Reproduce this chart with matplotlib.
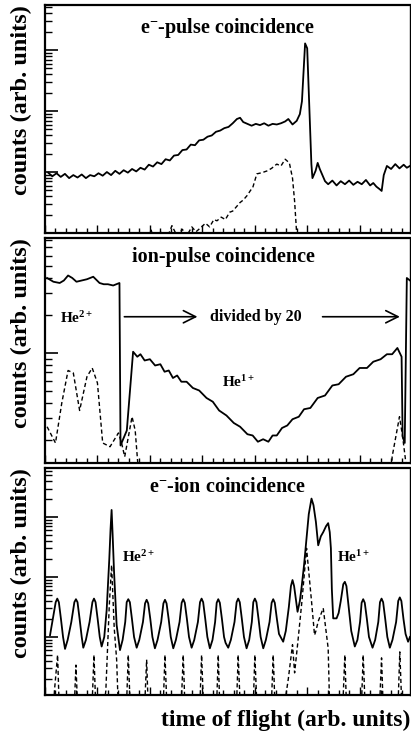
import numpy as np
import matplotlib.pyplot as plt
from matplotlib.ticker import LogLocator, NullFormatter, MultipleLocator

plt.rcParams['font.family'] = ['Liberation Serif', 'DejaVu Serif']
plt.rcParams['font.weight'] = 'bold'
plt.rcParams['mathtext.fontset'] = 'custom'
plt.rcParams['mathtext.rm'] = 'Liberation Serif:bold'
plt.rcParams['mathtext.bf'] = 'Liberation Serif:bold'
plt.rcParams['mathtext.it'] = 'Liberation Serif:bold'

# time of flight (arb. units) and log10(counts)
# -1 means below the bottom of the panel

# e- - pulse coincidence
t1_solid = [3, 7, 11, 15, 19, 23, 27, 31, 35, 39, 43, 47, 51, 55, 59, 63, 67, 71, 75, 79, 83,
            87, 91, 95, 99, 103, 107, 111, 115, 119, 123, 127, 131, 135, 139, 143, 147, 151,
            155, 159, 163, 167, 171, 175, 179, 183, 186, 189, 193, 197, 201, 205, 209, 213, 217,
            221, 225, 229, 232, 236, 240, 243, 245, 248, 250, 254, 255, 258, 260, 262, 264, 267,
            270, 274, 278, 282, 286, 290, 294, 298, 302, 306, 310, 313, 316, 319, 321, 323, 326,
            330, 334, 338, 342, 345, 348]
y1_solid = [0.99, 0.93, 0.98, 0.92, 0.97, 0.90, 0.95, 0.91, 0.96, 0.90, 0.95, 0.93, 0.98, 0.94,
            1.00, 0.95, 1.02, 0.97, 1.03, 0.99, 1.05, 1.01, 1.07, 1.04, 1.12, 1.09, 1.16, 1.13,
            1.21, 1.19, 1.27, 1.28, 1.36, 1.37, 1.45, 1.44, 1.52, 1.53, 1.58, 1.60, 1.66, 1.68,
            1.72, 1.74, 1.80, 1.87, 1.89, 1.82, 1.79, 1.76, 1.79, 1.77, 1.80, 1.76, 1.79, 1.78,
            1.80, 1.83, 1.87, 1.78, 1.84, 1.95, 2.16, 3.11, 3.03, 1.13, 0.90, 1.02, 1.15, 1.05,
            0.97, 0.85, 0.80, 0.86, 0.78, 0.85, 0.80, 0.86, 0.79, 0.84, 0.80, 0.87, 0.78, 0.82,
            0.76, 0.72, 0.69, 0.95, 1.10, 1.05, 1.13, 1.06, 1.12, 1.07, 1.10]
t1_dash = [97, 101, 105, 110, 116, 121, 126, 131, 135, 140, 144, 148, 153, 157, 161, 164, 168,
           172, 176, 179, 183, 186, 189, 193, 196, 198, 202, 207, 212, 216, 221, 225, 229, 233,
           236, 238, 240, 243]
y1_dash = [-0.2, 0.05, -0.1, 0.02, -0.1, 0.12, -0.05, 0.06, -0.05, 0.10, 0.02, 0.08, 0.16, 0.10,
           0.22, 0.20, 0.26, 0.22, 0.34, 0.36, 0.44, 0.50, 0.54, 0.62, 0.70, 0.74, 0.97, 0.99,
           1.02, 1.06, 1.13, 1.10, 1.21, 1.15, 0.90, 0.52, -0.02, -1]

# ion - pulse coincidence
t2_solid = [2, 8, 14, 18, 22, 26, 30, 35, 40, 46, 52, 56, 60, 65, 71, 72, 74, 78, 84, 88, 91,
            95, 100, 105, 110, 114, 118, 122, 126, 130, 135, 141, 147, 154, 160, 166, 173, 180,
            186, 193, 198, 203, 208, 213, 217, 221, 226, 231, 236, 242, 247, 253, 260, 267, 274,
            280, 287, 294, 300, 307, 313, 320, 326, 331, 336, 340, 341, 343, 345, 348]
y2_solid = [1.60, 1.57, 1.56, 1.58, 1.62, 1.60, 1.57, 1.58, 1.59, 1.61, 1.56, 1.55, 1.55, 1.54,
            1.56, 0.26, 0.30, 0.38, 1.01, 0.97, 0.99, 0.94, 0.95, 0.90, 0.91, 0.85, 0.86, 0.80,
            0.82, 0.77, 0.77, 0.72, 0.70, 0.64, 0.61, 0.54, 0.50, 0.44, 0.41, 0.35, 0.34, 0.29,
            0.31, 0.29, 0.34, 0.34, 0.40, 0.42, 0.47, 0.49, 0.55, 0.56, 0.64, 0.66, 0.74, 0.75,
            0.81, 0.83, 0.88, 0.88, 0.93, 0.95, 0.99, 0.99, 1.04, 0.97, 0.33, 0.28, 1.60, 1.58]
t2_dash = [2, 10, 16, 22, 27, 33, 40, 45, 50, 55, 62, 70, 73, 76, 83, 86, 89, 95, 325, 331,
           338, 341, 345]
y2_dash = [0.41, 0.28, 0.60, 0.86, 0.84, 0.54, 0.81, 0.88, 0.76, 0.28, 0.25, 0.36, 0.28, 0.17,
           0.49, 0.38, 0.06, -1, -1, 0.17, 0.49, 0.33, 0.06]

# e- - ion coincidence
t3_solid = [4.8, 7.5, 10.2, 11.7, 13.2, 15.2, 17.2, 19.1,
            21.6, 25.1, 28.0, 29.5, 31.0, 33.0, 35.0, 36.5,
            39.0, 42.5, 45.2, 46.7, 48.2, 50.2, 52.2, 54.0,
            56.5, 58.8, 61.3, 62.5, 63.5, 64.5, 65.8, 68.3, 71.5,
            74.0, 76.5, 77.9, 79.4, 80.9, 82.9, 84.9, 87.4,
            89.9, 93.4, 95.4, 96.9, 98.4, 100.4, 102.4, 104.8,
            107.3, 110.8, 112.9, 114.4, 115.9, 117.9, 119.9, 122.3,
            124.8, 128.3, 130.3, 131.8, 133.3, 135.3, 137.3, 139.8,
            142.3, 145.8, 147.8, 149.3, 150.8, 152.8, 154.8, 157.2,
            159.7, 162.2, 163.7, 165.2, 166.7, 168.7, 170.7, 172.2, 174.7,
            177.2, 180.7, 182.7, 184.2, 185.7, 187.7, 189.7, 192.2,
            194.7, 197.2, 198.6, 200.1, 201.6, 203.6, 205.6, 208.1,
            210.6, 214.1, 216.1, 217.6, 219.1, 221.1, 223.1, 227.1,
            229.6, 232.5, 234.5, 236.0, 237.5, 240.8, 243.0, 244.6, 247.0, 249.4, 251.5, 254.1,
            256.0, 258.3, 260.5, 263.0, 265.3, 268.0, 270.0, 271.5, 272.6, 273.5, 274.8, 278.0,
            280.0, 282.0, 284.4, 285.9, 287.4, 289.5, 292.0, 295.4,
            297.9, 300.4, 301.9, 303.4, 304.9, 306.9, 308.9, 312.3,
            314.8, 317.8, 319.4, 320.9, 322.4, 324.4, 326.4, 328.8,
            331.3, 334.8, 336.8, 338.3, 339.8, 341.8, 343.8, 346.2, 348.0]
y3_solid = [1.03, 1.30, 1.58, 1.64, 1.58, 1.30, 1.00, 0.80,
            0.95, 1.25, 1.58, 1.63, 1.58, 1.30, 1.00, 0.82,
            0.95, 1.25, 1.58, 1.64, 1.58, 1.30, 1.00, 0.84,
            1.00, 1.45, 2.30, 2.80, 3.12, 2.70, 2.10, 1.20, 0.78,
            0.95, 1.25, 1.58, 1.63, 1.58, 1.30, 1.00, 0.82,
            0.95, 1.25, 1.56, 1.62, 1.56, 1.30, 1.00, 0.81,
            0.95, 1.25, 1.56, 1.62, 1.56, 1.30, 1.00, 0.81,
            0.95, 1.25, 1.57, 1.63, 1.57, 1.30, 1.00, 0.82,
            0.95, 1.25, 1.58, 1.64, 1.58, 1.30, 1.00, 0.81,
            0.95, 1.25, 1.57, 1.63, 1.57, 1.30, 1.00, 0.90, 0.82,
            0.95, 1.25, 1.58, 1.64, 1.58, 1.30, 1.00, 0.81,
            0.95, 1.25, 1.58, 1.64, 1.58, 1.30, 1.00, 0.81,
            0.95, 1.25, 1.57, 1.63, 1.57, 1.30, 1.05, 0.92,
            1.10, 1.50, 1.85, 1.95, 1.85, 1.42, 1.60, 1.82, 2.20, 2.65, 3.05, 3.31,
            3.20, 2.92, 2.53, 2.68, 2.75, 2.85, 2.90, 2.75, 2.48, 1.80, 1.31, 1.31,
            1.40, 1.60, 1.88, 1.92, 1.85, 1.50, 1.10, 0.84,
            0.95, 1.25, 1.57, 1.63, 1.57, 1.30, 1.00, 0.82,
            0.95, 1.25, 1.58, 1.64, 1.58, 1.30, 1.00, 0.82,
            0.95, 1.25, 1.60, 1.66, 1.60, 1.30, 1.05, 0.92, 1.00]
t3_dash = [6, 9, 12, 15, 26, 29.5, 33, 43, 46.7, 50, 58, 61.3, 63.5, 66, 68.3, 71.5, 76, 79.4,
           83, 93, 96.9, 100, 111, 114.4, 118, 128, 131.8, 135, 146, 149.3, 153, 162, 165.2, 168,
           181, 184.2, 188, 197, 200.1, 204, 214, 217.6, 221, 232, 236.0, 238, 241, 245, 249.4,
           254.1, 257, 258.3, 260.5, 265.3, 270.0, 272.6, 275, 282, 285.9, 289, 300, 303.4, 307,
           317, 320.9, 324, 335, 338.3, 342]
y3_dash = [-1, 0.10, 0.70, -1, -1, 0.53, -1, -1, 0.70, -1, 0.10, 1.53, 2.20, 1.15, 0.62, -1,
           -1, 0.70, -1, -1, 0.62, -1, -1, 0.70, -1, -1, 0.70, -1, -1, 0.70, -1, -1, 0.70, -1,
           -1, 0.70, -1, -1, 0.70, -1, -1, 0.70, -1, 0.30, 0.87, 0.40, 0.90, 1.60, 2.48, 1.60,
           1.03, 1.10, 1.26, 1.48, 0.81, -1, -1, -1, 0.70, -1, -1, 0.70, -1, -1, 0.65, -1, -1,
           0.75, -1]

fig = plt.figure(figsize=(4.11, 7.35), dpi=100)
rects = [[0.1095, 0.6830, 0.888, 0.3102],
         [0.1095, 0.3701, 0.888, 0.3061],
         [0.1095, 0.0544, 0.888, 0.3088]]
ylims = [(10**0, 10**3.74), (10**0.12, 10**1.92), (10**0.03, 10**3.82)]
axes = [fig.add_axes(r) for r in rects]

series = [(t1_solid, y1_solid, t1_dash, y1_dash),
          (t2_solid, y2_solid, t2_dash, y2_dash),
          (t3_solid, y3_solid, t3_dash, y3_dash)]

for ax, (ts, ys, td, yd), yl in zip(axes, series, ylims):
    ax.plot(ts, 10**np.array(ys), color='black', lw=1.3)
    ax.plot(td, 10**np.array(yd), color='black', lw=1.0, ls=(0, (3, 2)))
    ax.set_yscale('log')
    ax.set_xlim(0, 348)
    ax.set_ylim(*yl)
    ax.yaxis.set_major_locator(LogLocator(base=10))
    ax.yaxis.set_minor_locator(LogLocator(base=10, subs=np.arange(2, 10)))
    ax.yaxis.set_major_formatter(NullFormatter())
    ax.yaxis.set_minor_formatter(NullFormatter())
    ax.xaxis.set_major_locator(MultipleLocator(50))
    ax.xaxis.set_minor_locator(MultipleLocator(10))
    ax.xaxis.set_major_formatter(NullFormatter())
    ax.tick_params(axis='y', which='major', direction='in', length=9.5, width=1.2)
    ax.tick_params(axis='y', which='minor', direction='in', length=5, width=1.0)
    ax.tick_params(axis='x', which='major', direction='in', length=6, width=1.0)
    ax.tick_params(axis='x', which='minor', direction='in', length=3.5, width=1.0)
    for s in ['left', 'bottom', 'top']:
        ax.spines[s].set_linewidth(1.6)
    ax.spines['right'].set_linewidth(1.0)
    ax.set_ylabel('counts (arb. units)', loc='top', fontsize=17.5, fontweight='bold',
                  labelpad=6)

ax1, ax2, ax3 = axes
ax1.text(0.499, 0.90, 'e$^{-}$-pulse coincidence', transform=ax1.transAxes,
         ha='center', va='center', fontsize=14.5, fontweight='bold')
ax2.text(0.49, 0.915, 'ion-pulse coincidence', transform=ax2.transAxes,
         ha='center', va='center', fontsize=14.5, fontweight='bold')
ax3.text(0.499, 0.916, 'e$^{-}$-ion coincidence', transform=ax3.transAxes,
         ha='center', va='center', fontsize=14.5, fontweight='bold')

ax2.text(0.041, 0.644, 'He$^{2+}$', transform=ax2.transAxes, ha='left', va='center',
         fontsize=11, fontweight='bold')
ax2.text(0.485, 0.36, 'He$^{1+}$', transform=ax2.transAxes, ha='left', va='center',
         fontsize=11, fontweight='bold')
ax3.text(0.211, 0.608, 'He$^{2+}$', transform=ax3.transAxes, ha='left', va='center',
         fontsize=11, fontweight='bold')
ax3.text(0.80, 0.608, 'He$^{1+}$', transform=ax3.transAxes, ha='left', va='center',
         fontsize=11, fontweight='bold')

arrow_y = 10**1.29
ax2.annotate('', xy=(148, arrow_y), xytext=(73, arrow_y),
             arrowprops=dict(arrowstyle='->', lw=1.2, mutation_scale=22, color='black'))
ax2.annotate('', xy=(341, arrow_y), xytext=(262, arrow_y),
             arrowprops=dict(arrowstyle='->', lw=1.2, mutation_scale=22, color='black'))
ax2.text(201, arrow_y, 'divided by 20', ha='center', va='center', fontsize=11.5,
         fontweight='bold')

ax3.set_xlabel('time of flight (arb. units)', loc='right', fontsize=17, fontweight='bold',
               labelpad=7)

fig.savefig('out.png', dpi=100)
